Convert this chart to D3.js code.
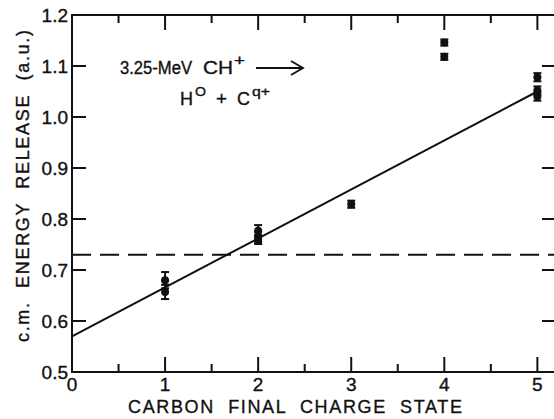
<!DOCTYPE html>
<html lang="en">
<head>
<meta charset="UTF-8">
<title>c.m. energy release vs carbon final charge state</title>
<script src="https://cdnjs.cloudflare.com/ajax/libs/d3/7.8.5/d3.min.js"></script>
<style>
    body { margin: 0; background: #fff; }
    svg { display: block; }
    text { font-family: "Liberation Sans", Arial, sans-serif; fill: #111; stroke: #111; stroke-width: 0.35; }
</style>
</head>
<body>
<div id="chart"></div>
<script>
    // measured points (charge state, energy, error)
    const chargeState = [1, 1, 2, 2, 2, 3, 4, 4, 5, 5, 5];
    const energy      = [0.680, 0.657, 0.777, 0.765, 0.760, 0.829, 1.146, 1.118, 1.078, 1.052, 1.040];
    const errors      = [0.016, 0.014, 0.011, 0.010, 0.009, 0.007, 0.006, 0.006, 0.008, 0.008, 0.008];

    const fitLine = [[0, 0.57], [5, 1.05]];
    const dashedLevel = 0.73;

    const xTicks = [0, 1, 2, 3, 4, 5];
    const xMinorTicks = [0.5, 1.5, 2.5, 3.5, 4.5];
    const yTicks = [0.5, 0.6, 0.7, 0.8, 0.9, 1.0, 1.1, 1.2];
    const yTickLabels = ["0.5", "0.6", "0.7", "0.8", "0.9", "1.0", "1.1", "1.2"];

    const width = 554, height = 419;
    const plotLeft = 72, plotRight = 556, plotTop = 15, plotBottom = 372;

    const svg = d3.select("#chart").append("svg")
        .attr("width", width)
        .attr("height", height);

    const x = d3.scaleLinear().domain([0, 5.2]).range([plotLeft, plotRight]);
    const y = d3.scaleLinear().domain([0.5, 1.2]).range([plotBottom, plotTop]);

    const ink = "#111";

    // frame
    svg.append("rect")
        .attr("x", plotLeft).attr("y", plotTop)
        .attr("width", plotRight - plotLeft).attr("height", plotBottom - plotTop)
        .attr("fill", "none").attr("stroke", ink).attr("stroke-width", 2);

    // x ticks (bottom and top, inward)
    const xMajor = xTicks.filter(d => d > 0);
    [[plotBottom, -1], [plotTop, 1]].forEach(([yy, dir]) => {
        svg.selectAll(null).data(xMajor).enter().append("line")
            .attr("x1", d => x(d)).attr("x2", d => x(d))
            .attr("y1", yy).attr("y2", yy + dir * 15)
            .attr("stroke", ink).attr("stroke-width", 2);
        svg.selectAll(null).data(xMinorTicks).enter().append("line")
            .attr("x1", d => x(d)).attr("x2", d => x(d))
            .attr("y1", yy).attr("y2", yy + dir * 8)
            .attr("stroke", ink).attr("stroke-width", 2);
    });

    // y ticks (left and right, inward)
    const yInner = yTicks.filter(d => d > 0.5 && d < 1.2);
    svg.selectAll(null).data(yInner).enter().append("line")
        .attr("x1", plotLeft).attr("x2", plotLeft + 14)
        .attr("y1", d => y(d)).attr("y2", d => y(d))
        .attr("stroke", ink).attr("stroke-width", 2);
    svg.selectAll(null).data(yInner).enter().append("line")
        .attr("x1", plotRight).attr("x2", plotRight - 14)
        .attr("y1", d => y(d)).attr("y2", d => y(d))
        .attr("stroke", ink).attr("stroke-width", 2);

    // tick labels
    svg.selectAll(null).data(xTicks).enter().append("text")
        .attr("x", d => x(d)).attr("y", plotBottom + 19)
        .attr("text-anchor", "middle")
        .attr("font-size", 19)
        .text(d => d);

    svg.selectAll(null).data(yTicks).enter().append("text")
        .attr("x", plotLeft - 4).attr("y", d => y(d) + 7)
        .attr("text-anchor", "end")
        .attr("font-size", 19)
        .text((d, i) => yTickLabels[i]);

    // axis titles
    svg.append("text")
        .attr("x", 128).attr("y", 413)
        .attr("font-size", 18)
        .attr("textLength", 334)
        .attr("lengthAdjust", "spacing")
        .attr("xml:space", "preserve")
        .text("CARBON  FINAL  CHARGE  STATE");

    svg.append("text")
        .attr("transform", "translate(29,342) rotate(-90)")
        .attr("font-size", 18)
        .attr("textLength", 312)
        .attr("lengthAdjust", "spacing")
        .attr("xml:space", "preserve")
        .text("c.m.  ENERGY  RELEASE  (a.u.)");

    // dashed reference level
    svg.append("line")
        .attr("x1", plotLeft).attr("x2", plotRight)
        .attr("y1", y(dashedLevel)).attr("y2", y(dashedLevel))
        .attr("stroke", ink).attr("stroke-width", 2)
        .attr("stroke-dasharray", "19,9");

    // fitted line
    svg.append("path")
        .attr("d", d3.line().x(d => x(d[0])).y(d => y(d[1]))(fitLine))
        .attr("fill", "none").attr("stroke", ink).attr("stroke-width", 2);

    // error bars and points
    const pts = chargeState.map((c, i) => ({ c, e: energy[i], err: errors[i] }));
    const g = svg.append("g");
    pts.forEach(p => {
        const cx = x(p.c);
        g.append("line").attr("x1", cx).attr("x2", cx)
            .attr("y1", y(p.e - p.err)).attr("y2", y(p.e + p.err))
            .attr("stroke", ink).attr("stroke-width", 2);
        [p.e - p.err, p.e + p.err].forEach(v => {
            g.append("line").attr("x1", cx - 4).attr("x2", cx + 4)
                .attr("y1", y(v)).attr("y2", y(v))
                .attr("stroke", ink).attr("stroke-width", 2);
        });
        g.append("circle").attr("cx", cx).attr("cy", y(p.e)).attr("r", 4).attr("fill", ink);
    });

    // reaction annotation, placed piece by piece
    const notePiece = (txt, px, py, len, size) =>
        svg.append("text").attr("x", px).attr("y", py)
            .attr("font-size", size)
            .attr("textLength", len).attr("lengthAdjust", "spacingAndGlyphs")
            .text(txt);
    notePiece("3.25-MeV", 120, 74, 72, 18);
    notePiece("CH", 203, 74, 30, 18);
    notePiece("+", 234, 65, 11, 14);
    svg.append("path")
        .attr("d", "M256,68 L302,68 M291,61 L303,68 L291,75")
        .attr("fill", "none").attr("stroke", ink).attr("stroke-width", 1.8);

    notePiece("H", 180, 105, 13, 18);
    notePiece("O", 195, 96, 11, 13);
    notePiece("+", 216, 105, 11, 18);
    notePiece("C", 237, 105, 13, 18);
    notePiece("q+", 252, 96, 18, 13);
</script>
</body>
</html>
